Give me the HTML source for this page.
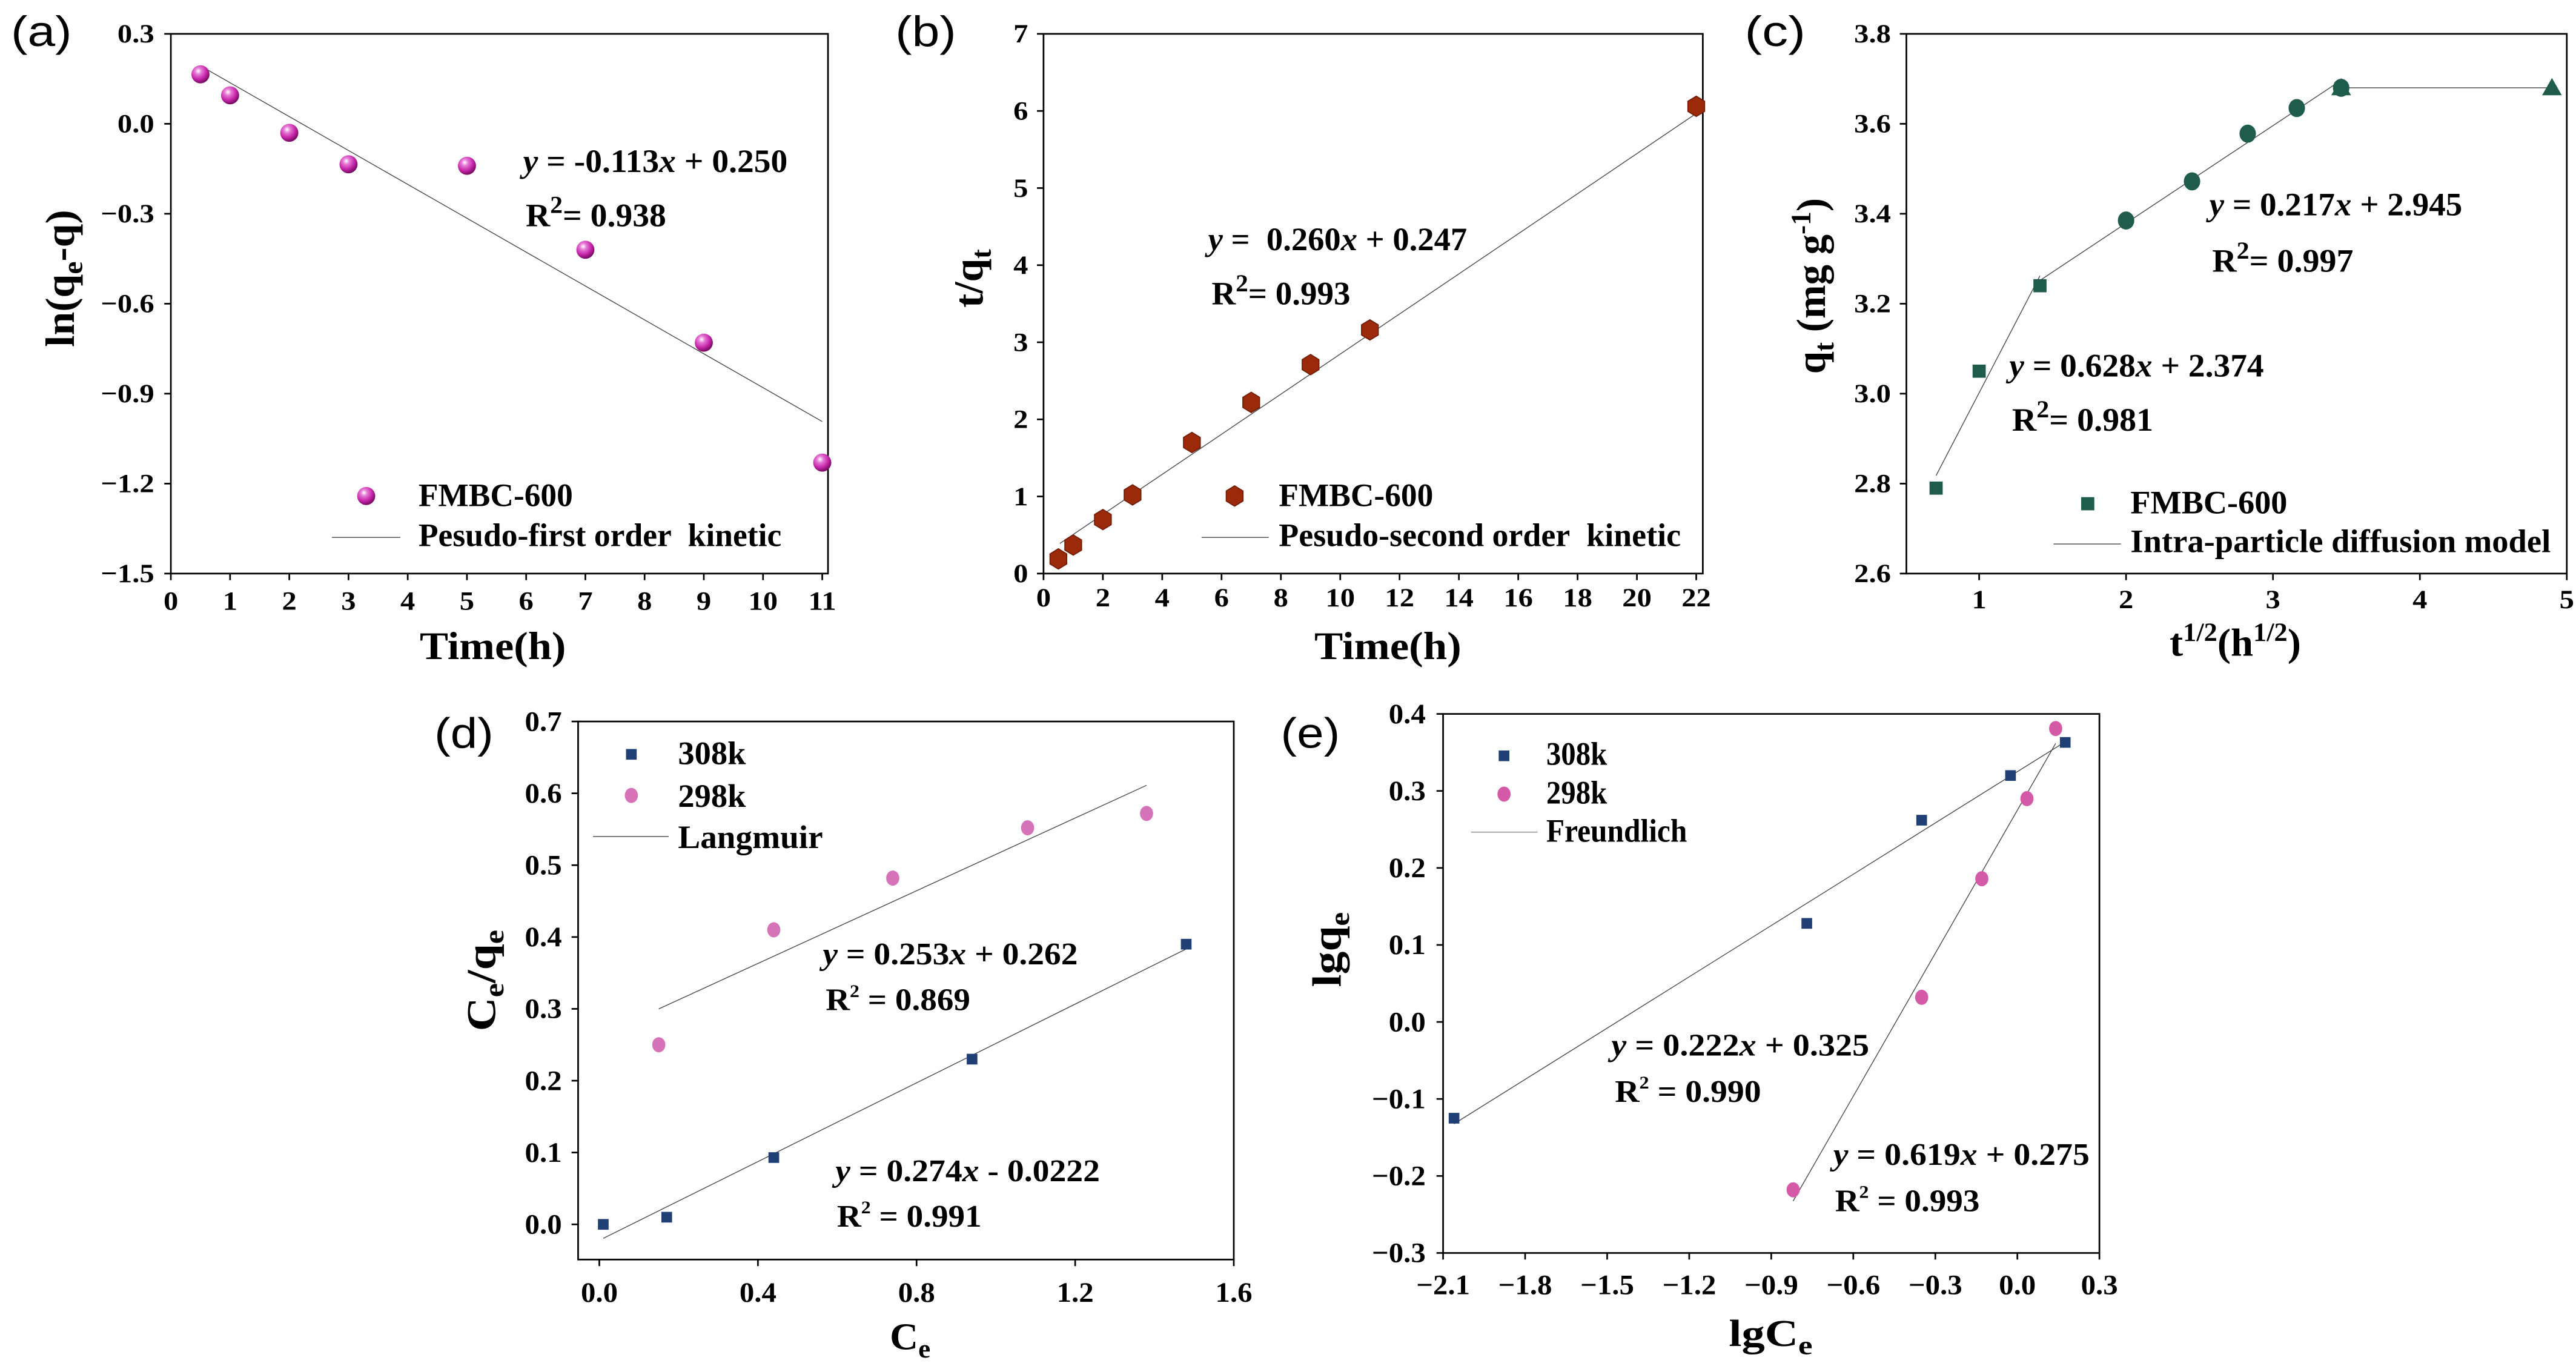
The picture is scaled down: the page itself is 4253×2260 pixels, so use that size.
<!DOCTYPE html>
<html><head><meta charset="utf-8"><style>
html,body{margin:0;padding:0;background:#fff;}
svg{display:block;}
text{font-family:"Liberation Serif","DejaVu Serif",serif;font-weight:bold;fill:#000;}
.pl{font-family:"Liberation Sans","DejaVu Sans",sans-serif;font-weight:normal;}
</style></head><body>
<svg id="fig" xmlns="http://www.w3.org/2000/svg" width="4253" height="2260" viewBox="0 0 1568 833" preserveAspectRatio="none">
<defs>
<radialGradient id="sph" cx="38%" cy="32%" r="65%">
<stop offset="0" stop-color="#ffffff"/><stop offset="0.28" stop-color="#e57ad6"/><stop offset="0.7" stop-color="#c624a8"/><stop offset="1" stop-color="#7d0f68"/>
</radialGradient>
</defs>
</svg>
<script>
// ---- data (a) ----
const A_time=[0.5,1,2,3,5,7,9,11];
const A_lnq=[0.165,0.095,-0.03,-0.135,-0.14,-0.42,-0.73,-1.13];
const A_fit=[-0.113,0.250];
const A_fitRange=[0.55,11];
const A_xticks=[0,1,2,3,4,5,6,7,8,9,10,11];
const A_yticks=[0.3,0,-0.3,-0.6,-0.9,-1.2,-1.5];
const A_ylabels=["0.3","0.0","\u22120.3","\u22120.6","\u22120.9","\u22121.2","\u22121.5"];
// ---- data (b) ----
const B_time=[0.5,1,2,3,5,7,9,11,22];
const B_tq=[0.19,0.37,0.70,1.02,1.70,2.22,2.71,3.16,6.06];
const B_fit=[0.260,0.247];
const B_fitRange=[0.55,22];
const B_xticks=[0,2,4,6,8,10,12,14,16,18,20,22];
const B_yticks=[0,1,2,3,4,5,6,7];
// ---- data (c) ----
const C_sq_x=[0.707,1,1.414];
const C_sq_y=[2.79,3.05,3.24];
const C_ci_x=[2,2.449,2.828,3.162,3.464];
const C_ci_y=[3.385,3.472,3.578,3.635,3.68];
const C_tr_x=[3.464,4.899];
const C_tr_y=[3.68,3.68];
const C_fit1=[0.628,2.374];
const C_fit1Range=[0.707,1.414];
const C_fit2=[0.217,2.945];
const C_fit2Range=[1.414,3.464];
const C_fit3=[0,3.68];
const C_fit3Range=[3.464,4.899];
const C_xticks=[1,2,3,4,5];
const C_yticks=[2.6,2.8,3.0,3.2,3.4,3.6,3.8];
// ---- data (d) ----
const D_ce308=[0.01,0.17,0.44,0.94,1.48];
const D_q308=[0.0,0.01,0.093,0.23,0.39];
const D_ce298=[0.15,0.44,0.74,1.08,1.38];
const D_q298=[0.25,0.41,0.482,0.552,0.572];
const D_fit308=[0.274,-0.0222];
const D_fit308Range=[0.01,1.48];
const D_fit298=[0.253,0.262];
const D_fit298Range=[0.15,1.38];
const D_xticks=[0,0.4,0.8,1.2,1.6];
const D_yticks=[0,0.1,0.2,0.3,0.4,0.5,0.6,0.7];
// ---- data (e) ----
const E_lc308=[-2.06,-0.77,-0.35,-0.025,0.175];
const E_lq308=[-0.125,0.128,0.262,0.32,0.363];
const E_lc298=[-0.82,-0.35,-0.13,0.035,0.14];
const E_lq298=[-0.218,0.032,0.186,0.29,0.381];
const E_fit308=[0.222,0.325];
const E_fit308Range=[-2.06,0.175];
const E_fit298=[0.619,0.275];
const E_fit298Range=[-0.82,0.14];
const E_xticks=[-2.1,-1.8,-1.5,-1.2,-0.9,-0.6,-0.3,0,0.3];
const E_xlabels=["\u22122.1","\u22121.8","\u22121.5","\u22121.2","\u22120.9","\u22120.6","\u22120.3","0.0","0.3"];
const E_yticks=[0.4,0.3,0.2,0.1,0,-0.1,-0.2,-0.3];
const E_ylabels=["0.4","0.3","0.2","0.1","0.0","\u22120.1","\u22120.2","\u22120.3"];

const NS="http://www.w3.org/2000/svg";
const svg=document.getElementById('fig');
function mk(parent,tag,attrs){const e=document.createElementNS(NS,tag);for(const k in attrs)e.setAttribute(k,attrs[k]);parent.appendChild(e);return e;}
function nm(el,n){


return el;}
function lin(d0,d1,p0,p1){return v=>p0+(v-d0)*(p1-p0)/(d1-d0);}
function txt(p,x,y,html,F,anchor,w,sx){
  const t=document.createElementNS(NS,'text');
  if(sx){t.setAttribute('transform','translate('+x+','+y+') scale('+sx+',1)');t.setAttribute('x',0);t.setAttribute('y',0);}
  else{t.setAttribute('x',x);t.setAttribute('y',y);}
  t.setAttribute('font-size',F);
  t.setAttribute('text-anchor',anchor||'start');
  if(w){t.setAttribute('textLength',w);t.setAttribute('lengthAdjust','spacingAndGlyphs');}
  t.innerHTML=html;p.appendChild(t);return t;}
function vtxt(p,x,y,html,F,w){
  const t=document.createElementNS(NS,'text');
  t.setAttribute('transform','translate('+x+','+y+') rotate(-90)');
  t.setAttribute('x',0);t.setAttribute('y',0);t.setAttribute('font-size',F);
  t.setAttribute('text-anchor','middle');
  if(w){t.setAttribute('textLength',w);t.setAttribute('lengthAdjust','spacingAndGlyphs');}
  t.innerHTML=html;p.appendChild(t);return t;}
function frame(g,l,t,r,b){const e=mk(g,'rect',{x:l,y:t,width:r-l,height:b-t,fill:'none',stroke:'#000','stroke-width':1});nm(e,'plot-frame');}
function xaxis(g,X,bottom,ticks,labels,base,F,sx){
  ticks.forEach((v,i)=>{const l=mk(g,'line',{x1:X(v),x2:X(v),y1:bottom,y2:bottom+4,stroke:'#000','stroke-width':1});nm(l,'x-tick');
  const t=txt(g,X(v),base,labels[i],F,'middle',null,sx);nm(t,'x-tick-label');});}
function yaxis(g,Y,left,ticks,labels,right,F,sx){
  ticks.forEach((v,i)=>{const l=mk(g,'line',{x1:left-4,x2:left,y1:Y(v),y2:Y(v),stroke:'#000','stroke-width':1});nm(l,'y-tick');
  const t=txt(g,right,Y(v)+F*0.33,labels[i],F,'end',null,sx);nm(t,'y-tick-label');});}
function fitline(g,X,Y,fit,rng,col,n){const l=mk(g,'line',{x1:X(rng[0]),y1:Y(fit[0]*rng[0]+fit[1]),x2:X(rng[1]),y2:Y(fit[0]*rng[1]+fit[1]),stroke:col||'#444','stroke-width':0.5});nm(l,n);}
function sphere(g,x,y){return mk(g,'circle',{cx:x,cy:y,r:5.5,fill:'url(#sph)'});}
function hex(g,x,y){const r=6.2,pts=[];for(let k=0;k<6;k++){const a=Math.PI/6+k*Math.PI/3;pts.push((x+r*Math.cos(a)*0.95)+','+(y+r*Math.sin(a)));}return mk(g,'polygon',{points:pts.join(' '),fill:'#9a2a0a',stroke:'#6e1a04','stroke-width':0.6});}
function sq(g,x,y,s,c){return mk(g,'rect',{x:x-s/2,y:y-s/2,width:s,height:s,fill:c});}
function tri(g,x,y,s,c){return mk(g,'polygon',{points:(x)+','+(y-s*0.6)+' '+(x-s*0.6)+','+(y+s*0.45)+' '+(x+s*0.6)+','+(y+s*0.45),fill:c});}
const fmt1=v=>v.toFixed(1);
const TF=16,TSX=1.12,BF=17,BSX=1.06;

// ===== panel a =====
(function(){
const g=mk(svg,'g',{});nm(g,'panel-a');
const X=lin(0,11,104,500.5),Y=lin(0.3,-1.5,20.6,349);
frame(g,104,20.6,504,349);
xaxis(g,X,349,A_xticks,A_xticks.map(String),371,TF,TSX);
yaxis(g,Y,104,A_yticks,A_ylabels,93.9,TF,TSX);
fitline(g,X,Y,A_fit,A_fitRange,'#444','fit-line-first-order');
A_time.forEach((v,i)=>{const m=sphere(g,X(v),Y(A_lnq[i]));nm(m,'point-a');});
let t=txt(g,6.7,28,'(a)',26,'start',37);t.setAttribute('class','pl');nm(t,'panel-label-a');
t=vtxt(g,45,169.4,'ln(q<tspan font-size="17" dy="5">e</tspan><tspan dy="-5">-q)</tspan>',25,83.5);nm(t,'y-axis-title-a');
t=txt(g,300,401,'Time(h)',24,'middle',89);nm(t,'x-axis-title-a');
t=txt(g,318.4,104.6,'<tspan font-style="italic">y</tspan> = -0.113<tspan font-style="italic">x</tspan> + 0.250',20,'start',161);nm(t,'equation-a');
t=txt(g,320,137.6,'R<tspan font-size="15" dy="-8">2</tspan><tspan dy="8">= 0.938</tspan>',20,'start',85.5);nm(t,'r-squared-a');
let m=sphere(g,222.9,301.8);nm(m,'legend-marker-fmbc');
t=txt(g,254.7,308,'FMBC-600',20,'start',94);nm(t,'legend-label-fmbc');
let l=mk(g,'line',{x1:202,x2:243.7,y1:327,y2:327,stroke:'#444','stroke-width':0.5});nm(l,'legend-line-first-order');
t=txt(g,254.7,332.2,'Pesudo-first order&#160; kinetic',20,'start',221);nm(t,'legend-label-first-order');
})();

// ===== panel b =====
(function(){
const g=mk(svg,'g',{});nm(g,'panel-b');
const X=lin(0,22,635.2,1032.5),Y=lin(0,7,349,20.6);
frame(g,635.2,20.6,1036.5,349);
xaxis(g,X,349,B_xticks,B_xticks.map(String),369,TF,TSX);
yaxis(g,Y,635.2,B_yticks,B_yticks.map(String),625.8,TF,TSX);
fitline(g,X,Y,B_fit,B_fitRange,'#444','fit-line-second-order');
B_time.forEach((v,i)=>{const m=hex(g,X(v),Y(B_tq[i]));nm(m,'point-b');});
let t=txt(g,545,28,'(b)',26,'start',37);t.setAttribute('class','pl');nm(t,'panel-label-b');
t=vtxt(g,598,169.4,'t/q<tspan font-size="17" dy="5">t</tspan>',25,35.6);nm(t,'y-axis-title-b');
t=txt(g,844.8,401,'Time(h)',24,'middle',89.5);nm(t,'x-axis-title-b');
t=txt(g,735.4,152.2,'<tspan font-style="italic">y</tspan> =&#160; 0.260<tspan font-style="italic">x</tspan> + 0.247',20,'start',157.6);nm(t,'equation-b');
t=txt(g,737.5,185.3,'R<tspan font-size="15" dy="-8">2</tspan><tspan dy="8">= 0.993</tspan>',20,'start',84.5);nm(t,'r-squared-b');
let m=hex(g,751.5,301.8);nm(m,'legend-marker-fmbc');
t=txt(g,778.4,308,'FMBC-600',20,'start',94);nm(t,'legend-label-fmbc');
let l=mk(g,'line',{x1:731.4,x2:772.3,y1:327,y2:327,stroke:'#444','stroke-width':0.5});nm(l,'legend-line-second-order');
t=txt(g,778.4,332.2,'Pesudo-second order&#160; kinetic',20,'start',244.7);nm(t,'legend-label-second-order');
})();

// ===== panel c =====
(function(){
const g=mk(svg,'g',{});nm(g,'panel-c');
const col='#1f5c4c';
const X=lin(1,5,1204.7,1562.4),Y=lin(2.6,3.8,349,20.6);
frame(g,1160.4,20.6,1562.4,349);
xaxis(g,X,349,C_xticks,C_xticks.map(String),370,TF,TSX);
yaxis(g,Y,1160.4,C_yticks,C_yticks.map(fmt1),1151,TF,TSX);
fitline(g,X,Y,C_fit1,C_fit1Range,'#444','fit-line-stage-1');
fitline(g,X,Y,C_fit2,C_fit2Range,'#444','fit-line-stage-2');
fitline(g,X,Y,C_fit3,C_fit3Range,'#444','fit-line-stage-3');
C_sq_x.forEach((v,i)=>{const m=sq(g,X(v),Y(C_sq_y[i]),8,col);nm(m,'point-c-stage-1');});
C_ci_x.forEach((v,i)=>{const m=mk(g,'ellipse',{cx:X(v),cy:Y(C_ci_y[i]),rx:5,ry:5.5,fill:col});nm(m,'point-c-stage-2');});
C_tr_x.forEach((v,i)=>{const m=tri(g,X(v),Y(C_tr_y[i]),10,col);nm(m,'point-c-stage-3');});
let t=txt(g,1062,28,'(c)',26,'start',37);t.setAttribute('class','pl');nm(t,'panel-label-c');
t=vtxt(g,1110.9,174,'q<tspan font-size="17" dy="5">t</tspan><tspan dy="-5"> (mg g</tspan><tspan font-size="17" dy="-9">-1</tspan><tspan dy="9">)</tspan>',25,107);nm(t,'y-axis-title-c');
t=txt(g,1360.6,399,'t<tspan font-size="16" dy="-9">1/2</tspan><tspan dy="9">(h</tspan><tspan font-size="16" dy="-9">1/2</tspan><tspan dy="9">)</tspan>',24,'middle',80);nm(t,'x-axis-title-c');
t=txt(g,1344.8,131,'<tspan font-style="italic">y</tspan> = 0.217<tspan font-style="italic">x</tspan> + 2.945',20,'start',154);nm(t,'equation-c-stage-2');
t=txt(g,1346.5,165.4,'R<tspan font-size="15" dy="-8">2</tspan><tspan dy="8">= 0.997</tspan>',20,'start',86);nm(t,'r-squared-c-stage-2');
t=txt(g,1223,229,'<tspan font-style="italic">y</tspan> = 0.628<tspan font-style="italic">x</tspan> + 2.374',20,'start',155);nm(t,'equation-c-stage-1');
t=txt(g,1224.7,262,'R<tspan font-size="15" dy="-8">2</tspan><tspan dy="8">= 0.981</tspan>',20,'start',86);nm(t,'r-squared-c-stage-1');
let m=sq(g,1270.8,306.5,8,col);nm(m,'legend-marker-fmbc');
t=txt(g,1296.8,312.3,'FMBC-600',20,'start',95.5);nm(t,'legend-label-fmbc');
let l=mk(g,'line',{x1:1250,x2:1291,y1:331,y2:331,stroke:'#444','stroke-width':0.5});nm(l,'legend-line-diffusion');
t=txt(g,1296.8,336,'Intra-particle diffusion model',20,'start',255.8);nm(t,'legend-label-diffusion');
})();

// ===== panel d =====
(function(){
const g=mk(svg,'g',{});nm(g,'panel-d');
const c1='#1f3f75',c2='#d672b8';
const X=lin(0,1.6,364.8,751),Y=lin(0,0.7,745,439);
frame(g,351.9,439,751,766.4);
xaxis(g,X,766.4,D_xticks,D_xticks.map(fmt1),792,BF,BSX);
yaxis(g,Y,351.9,D_yticks,D_yticks.map(fmt1),342,BF,BSX);
fitline(g,X,Y,D_fit308,D_fit308Range,'#444','fit-line-308k');
fitline(g,X,Y,D_fit298,D_fit298Range,'#444','fit-line-298k');
D_ce308.forEach((v,i)=>{const m=sq(g,X(v),Y(D_q308[i]),6.5,c1);nm(m,'point-308k');});
D_ce298.forEach((v,i)=>{const m=mk(g,'ellipse',{cx:X(v),cy:Y(D_q298[i]),rx:4,ry:4.6,fill:c2});nm(m,'point-298k');});
let t=txt(g,264.4,455,'(d)',26,'start',36);t.setAttribute('class','pl');nm(t,'panel-label-d');
t=vtxt(g,301.4,596.6,'C<tspan font-size="17" dy="5">e</tspan><tspan dy="-5">/q</tspan><tspan font-size="17" dy="5">e</tspan>',25,61.7);nm(t,'y-axis-title-d');
t=txt(g,554,821,'C<tspan font-size="16" dy="5">e</tspan>',23,'middle',24.7);nm(t,'x-axis-title-d');
let m=sq(g,384.3,459,6.5,c1);nm(m,'legend-marker-308k');
t=txt(g,412.7,465,'308k',20,'start',41.3);nm(t,'legend-label-308k');
m=mk(g,'ellipse',{cx:384.3,cy:484,rx:4,ry:4.6,fill:c2});nm(m,'legend-marker-298k');
t=txt(g,412.7,491,'298k',20,'start',41.3);nm(t,'legend-label-298k');
let l=mk(g,'line',{x1:361,x2:407,y1:509,y2:509,stroke:'#444','stroke-width':0.5});nm(l,'legend-line-langmuir');
t=txt(g,412.7,516,'Langmuir',20,'start',88.2);nm(t,'legend-label-langmuir');
t=txt(g,500.8,586.7,'<tspan font-style="italic">y</tspan> = 0.253<tspan font-style="italic">x</tspan> + 0.262',19,'start',155.3);nm(t,'equation-298k');
t=txt(g,502.6,614.7,'R<tspan font-size="11" dy="-8">2</tspan><tspan dy="8"> = 0.869</tspan>',19,'start',88);nm(t,'r-squared-298k');
t=txt(g,508.5,718.7,'<tspan font-style="italic">y</tspan> = 0.274<tspan font-style="italic">x</tspan> - 0.0222',19,'start',161);nm(t,'equation-308k');
t=txt(g,509.5,746.3,'R<tspan font-size="11" dy="-8">2</tspan><tspan dy="8"> = 0.991</tspan>',19,'start',88);nm(t,'r-squared-308k');
})();

// ===== panel e =====
(function(){
const g=mk(svg,'g',{});nm(g,'panel-e');
const c1='#1f3f75',c2='#d45aa8';
const X=lin(-2.1,0.3,878.4,1277.9),Y=lin(-0.3,0.4,762.4,434.4);
frame(g,878.4,434.4,1277.9,762.4);
xaxis(g,X,762.4,E_xticks,E_xlabels,787.5,BF,BSX);
yaxis(g,Y,878.4,E_yticks,E_ylabels,867.8,BF,BSX);
fitline(g,X,Y,E_fit308,E_fit308Range,'#444','fit-line-308k');
fitline(g,X,Y,E_fit298,E_fit298Range,'#444','fit-line-298k');
E_lc308.forEach((v,i)=>{const m=sq(g,X(v),Y(E_lq308[i]),6.5,c1);nm(m,'point-308k');});
E_lc298.forEach((v,i)=>{const m=mk(g,'ellipse',{cx:X(v),cy:Y(E_lq298[i]),rx:4,ry:4.6,fill:c2});nm(m,'point-298k');});
let t=txt(g,779.6,455,'(e)',26,'start',36);t.setAttribute('class','pl');nm(t,'panel-label-e');
t=vtxt(g,816,577.8,'lgq<tspan font-size="17" dy="5">e</tspan>',25,45.6);nm(t,'y-axis-title-e');
t=txt(g,1077.8,819,'lgC<tspan font-size="16" dy="5">e</tspan>',23,'middle',51);nm(t,'x-axis-title-e');
let m=sq(g,915.5,459.9,6.5,c1);nm(m,'legend-marker-308k');
t=txt(g,941.2,465.3,'308k',20,'start',37);nm(t,'legend-label-308k');
m=mk(g,'ellipse',{cx:915.5,cy:483.2,rx:4,ry:4.6,fill:c2});nm(m,'legend-marker-298k');
t=txt(g,941.2,488.9,'298k',20,'start',37);nm(t,'legend-label-298k');
let l=mk(g,'line',{x1:895.4,x2:935.9,y1:506.3,y2:506.3,stroke:'#888','stroke-width':0.5});nm(l,'legend-line-freundlich');
t=txt(g,941.2,512.2,'Freundlich',20,'start',85.7);nm(t,'legend-label-freundlich');
t=txt(g,980.8,642.3,'<tspan font-style="italic">y</tspan> = 0.222<tspan font-style="italic">x</tspan> + 0.325',19,'start',157);nm(t,'equation-308k');
t=txt(g,983,670.4,'R<tspan font-size="11" dy="-8">2</tspan><tspan dy="8"> = 0.990</tspan>',19,'start',89);nm(t,'r-squared-308k');
t=txt(g,1115.9,708.8,'<tspan font-style="italic">y</tspan> = 0.619<tspan font-style="italic">x</tspan> + 0.275',19,'start',156);nm(t,'equation-298k');
t=txt(g,1117,736.9,'R<tspan font-size="11" dy="-8">2</tspan><tspan dy="8"> = 0.993</tspan>',19,'start',88);nm(t,'r-squared-298k');
})();
</script>
</body></html>
